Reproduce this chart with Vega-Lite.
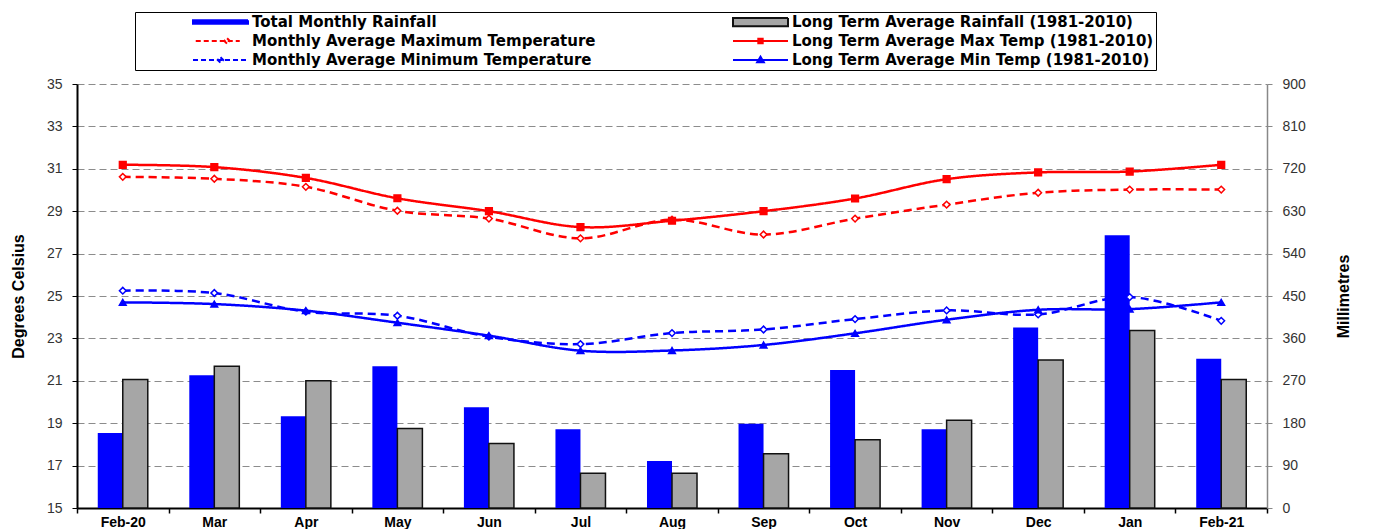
{
  "$schema": "https://vega.github.io/schema/vega-lite/v6.json",
  "width": 1190,
  "height": 424,
  "autosize": {"type": "none"},
  "padding": {"left": 77, "top": 84, "right": 112, "bottom": 21},
  "background": "white",
  "config": {"view": {"stroke": null}, "font": "Liberation Sans"},
  "data": {"values": [
    {"month": "Feb-20", "series": "rain", "value": 159},
    {"month": "Mar", "series": "rain", "value": 282},
    {"month": "Apr", "series": "rain", "value": 195},
    {"month": "May", "series": "rain", "value": 301},
    {"month": "Jun", "series": "rain", "value": 214},
    {"month": "Jul", "series": "rain", "value": 167},
    {"month": "Aug", "series": "rain", "value": 100},
    {"month": "Sep", "series": "rain", "value": 179},
    {"month": "Oct", "series": "rain", "value": 293},
    {"month": "Nov", "series": "rain", "value": 167},
    {"month": "Dec", "series": "rain", "value": 383},
    {"month": "Jan", "series": "rain", "value": 579},
    {"month": "Feb-21", "series": "rain", "value": 317},
    {"month": "Feb-20", "series": "rain_lta", "value": 273},
    {"month": "Mar", "series": "rain_lta", "value": 301},
    {"month": "Apr", "series": "rain_lta", "value": 270},
    {"month": "May", "series": "rain_lta", "value": 169},
    {"month": "Jun", "series": "rain_lta", "value": 137},
    {"month": "Jul", "series": "rain_lta", "value": 74},
    {"month": "Aug", "series": "rain_lta", "value": 74},
    {"month": "Sep", "series": "rain_lta", "value": 115},
    {"month": "Oct", "series": "rain_lta", "value": 145},
    {"month": "Nov", "series": "rain_lta", "value": 186},
    {"month": "Dec", "series": "rain_lta", "value": 314},
    {"month": "Jan", "series": "rain_lta", "value": 377},
    {"month": "Feb-21", "series": "rain_lta", "value": 273},
    {"month": "Feb-20", "series": "tmax", "value": 30.62},
    {"month": "Mar", "series": "tmax", "value": 30.53},
    {"month": "Apr", "series": "tmax", "value": 30.15},
    {"month": "May", "series": "tmax", "value": 29.02},
    {"month": "Jun", "series": "tmax", "value": 28.65},
    {"month": "Jul", "series": "tmax", "value": 27.72},
    {"month": "Aug", "series": "tmax", "value": 28.6},
    {"month": "Sep", "series": "tmax", "value": 27.9},
    {"month": "Oct", "series": "tmax", "value": 28.65},
    {"month": "Nov", "series": "tmax", "value": 29.31},
    {"month": "Dec", "series": "tmax", "value": 29.87},
    {"month": "Jan", "series": "tmax", "value": 30.02},
    {"month": "Feb-21", "series": "tmax", "value": 30.02},
    {"month": "Feb-20", "series": "tmax_lta", "value": 31.19},
    {"month": "Mar", "series": "tmax_lta", "value": 31.08},
    {"month": "Apr", "series": "tmax_lta", "value": 30.57},
    {"month": "May", "series": "tmax_lta", "value": 29.61},
    {"month": "Jun", "series": "tmax_lta", "value": 29.0},
    {"month": "Jul", "series": "tmax_lta", "value": 28.25},
    {"month": "Aug", "series": "tmax_lta", "value": 28.55},
    {"month": "Sep", "series": "tmax_lta", "value": 29.0},
    {"month": "Oct", "series": "tmax_lta", "value": 29.6},
    {"month": "Nov", "series": "tmax_lta", "value": 30.51},
    {"month": "Dec", "series": "tmax_lta", "value": 30.83},
    {"month": "Jan", "series": "tmax_lta", "value": 30.87},
    {"month": "Feb-21", "series": "tmax_lta", "value": 31.19},
    {"month": "Feb-20", "series": "tmin", "value": 25.25},
    {"month": "Mar", "series": "tmin", "value": 25.14},
    {"month": "Apr", "series": "tmin", "value": 24.26},
    {"month": "May", "series": "tmin", "value": 24.07},
    {"month": "Jun", "series": "tmin", "value": 23.08},
    {"month": "Jul", "series": "tmin", "value": 22.73},
    {"month": "Aug", "series": "tmin", "value": 23.25},
    {"month": "Sep", "series": "tmin", "value": 23.42},
    {"month": "Oct", "series": "tmin", "value": 23.91},
    {"month": "Nov", "series": "tmin", "value": 24.32},
    {"month": "Dec", "series": "tmin", "value": 24.13},
    {"month": "Jan", "series": "tmin", "value": 24.95},
    {"month": "Feb-21", "series": "tmin", "value": 23.83},
    {"month": "Feb-20", "series": "tmin_lta", "value": 24.7},
    {"month": "Mar", "series": "tmin_lta", "value": 24.62},
    {"month": "Apr", "series": "tmin_lta", "value": 24.31},
    {"month": "May", "series": "tmin_lta", "value": 23.74},
    {"month": "Jun", "series": "tmin_lta", "value": 23.13},
    {"month": "Jul", "series": "tmin_lta", "value": 22.42},
    {"month": "Aug", "series": "tmin_lta", "value": 22.43},
    {"month": "Sep", "series": "tmin_lta", "value": 22.69},
    {"month": "Oct", "series": "tmin_lta", "value": 23.24},
    {"month": "Nov", "series": "tmin_lta", "value": 23.88},
    {"month": "Dec", "series": "tmin_lta", "value": 24.35},
    {"month": "Jan", "series": "tmin_lta", "value": 24.38},
    {"month": "Feb-21", "series": "tmin_lta", "value": 24.7}
  ]},
  "layer": [
    {
      "transform": [{"filter": "datum.series == 'rain' || datum.series == 'rain_lta'"}],
      "mark": {"type": "bar", "strokeWidth": 1.5},
      "encoding": {
        "x": {
          "field": "month", "type": "nominal", "sort": null,
          "scale": {"domain": ["Feb-20","Mar","Apr","May","Jun","Jul","Aug","Sep","Oct","Nov","Dec","Jan","Feb-21"], "paddingInner": 0, "paddingOuter": 0},
          "axis": {"title": null, "labelAngle": 0, "labelFont": "Liberation Sans", "labelFontWeight": "bold", "labelFontSize": 14, "labelColor": "#000", "labelPadding": 2, "tickBand": "extent", "tickSize": 5, "tickColor": "#000", "tickWidth": 1.5, "domainColor": "#000", "domainWidth": 2, "grid": false}
        },
        "xOffset": {"field": "series", "type": "nominal", "scale": {"domain": ["rain", "rain_lta"], "paddingInner": 0, "paddingOuter": 0.83}},
        "y": {
          "field": "value", "type": "quantitative",
          "scale": {"domain": [0, 900], "nice": false},
          "axis": {"orient": "right", "values": [0,90,180,270,360,450,540,630,720,810,900], "title": "Millimetres", "titleAngle": 270, "titleFont": "Liberation Sans Narrow, Liberation Sans, sans-serif", "titleFontSize": 16, "titleFontWeight": "bold", "titleColor": "#000", "titlePadding": 46, "labelFont": "Liberation Sans", "labelFontSize": 14, "labelColor": "#333", "labelPadding": 10, "tickSize": 5, "tickColor": "#888", "domainColor": "#888", "domainWidth": 1.5, "grid": false}
        },
        "color": {
          "field": "series", "type": "nominal",
          "scale": {"domain": ["rain", "rain_lta"], "range": ["#0000ff", "#a6a6a6"]},
          "legend": null
        },
        "stroke": {"condition": {"test": "datum.series == 'rain_lta'", "value": "#111111"}, "value": "transparent"}
      }
    },
    {
      "transform": [{"filter": "datum.series != 'rain' && datum.series != 'rain_lta'"}],
      "encoding": {
        "x": {"field": "month", "type": "nominal", "sort": null},
        "y": {
          "field": "value", "type": "quantitative",
          "scale": {"domain": [15, 35], "nice": false, "zero": false},
          "axis": {"orient": "left", "values": [15,17,19,21,23,25,27,29,31,33,35], "title": "Degrees Celsius", "titleFont": "Liberation Sans Narrow, Liberation Sans, sans-serif", "titleFontSize": 16, "titleFontWeight": "bold", "titleColor": "#000", "titlePadding": 20, "labelFont": "Liberation Sans", "labelFontSize": 14, "labelColor": "#333", "labelPadding": 10, "tickSize": 5, "tickColor": "#000", "domainColor": "#000", "domainWidth": 2, "grid": true, "gridColor": "#8c8c8c", "gridDash": [7, 4], "gridWidth": 1}
        }
      },
      "layer": [
        {
          "mark": {"type": "line", "strokeWidth": 2.5, "interpolate": "catmull-rom"},
          "encoding": {
            "stroke": {"field": "series", "type": "nominal", "scale": {"domain": ["tmax", "tmax_lta", "tmin", "tmin_lta"], "range": ["#ff0000", "#ff0000", "#0000ff", "#0000ff"]}, "legend": null},
            "strokeDash": {"field": "series", "type": "nominal", "scale": {"domain": ["tmax", "tmax_lta", "tmin", "tmin_lta"], "range": [[8, 5], [1, 0], [8, 5], [1, 0]]}, "legend": null}
          }
        },
        {
          "mark": {"type": "point", "filled": true, "size": 45, "strokeWidth": 1.5, "opacity": 1},
          "encoding": {
            "shape": {"field": "series", "type": "nominal", "scale": {"domain": ["tmax", "tmax_lta", "tmin", "tmin_lta"], "range": ["diamond", "square", "diamond", "triangle-up"]}, "legend": null},
            "fill": {"field": "series", "type": "nominal", "scale": {"domain": ["tmax", "tmax_lta", "tmin", "tmin_lta"], "range": ["#ffffff", "#ff0000", "#ffffff", "#0000ff"]}, "legend": null},
            "stroke": {"field": "series", "type": "nominal", "legend": null}
          }
        }
      ]
    },
    {
      "transform": [{"filter": "false"}],
      "mark": {"type": "point", "filled": true, "opacity": 1},
      "encoding": {
        "shape": {
          "field": "series", "type": "nominal",
          "scale": {"domain": ["rain", "rain_lta", "tmax", "tmax_lta", "tmin", "tmin_lta"], "range": ["M0,-0.03H1V0.03H0Z", "M0,-0.075H1V0.075H0Z", "M0.05,0H0.85M0.62,-0.05L0.67,0L0.62,0.05L0.57,0Z", "M0,0H1M0.46,-0.04H0.54V0.04H0.46Z", "M0,0H1M0.5,-0.05L0.55,0L0.5,0.05L0.45,0Z", "M0,0H1M0.5,-0.06L0.56,0.04H0.44Z"]},
          "legend": {
            "title": null, "orient": "none", "legendX": 58, "legendY": -72, "direction": "horizontal",
            "columns": 2, "columnPadding": 81, "rowPadding": 3, "clipHeight": 16,
            "symbolSize": 12100, "symbolStrokeWidth": 2, "labelOffset": 3, "labelLimit": 700,
            "labelFont": "DejaVu Sans", "labelFontSize": 15, "labelFontWeight": "bold", "labelColor": "#000",
            "padding": 2, "strokeColor": "#000",
            "labelExpr": "datum.value == 'rain' ? 'Total Monthly Rainfall' : datum.value == 'rain_lta' ? 'Long Term Average Rainfall (1981-2010)' : datum.value == 'tmax' ? 'Monthly Average Maximum Temperature' : datum.value == 'tmax_lta' ? 'Long Term Average Max Temp (1981-2010)' : datum.value == 'tmin' ? 'Monthly Average Minimum Temperature' : 'Long Term Average Min Temp (1981-2010)'"
          }
        },
        "fill": {
          "field": "series", "type": "nominal",
          "scale": {"domain": ["rain", "rain_lta", "tmax", "tmax_lta", "tmin", "tmin_lta"], "range": ["#0000ff", "#a6a6a6", "#ffffff", "#ff0000", "#ffffff", "#0000ff"]}
        },
        "stroke": {
          "field": "series", "type": "nominal",
          "scale": {"domain": ["rain", "rain_lta", "tmax", "tmax_lta", "tmin", "tmin_lta"], "range": ["#0000ff", "#111111", "#ff0000", "#ff0000", "#0000ff", "#0000ff"]}
        },
        "strokeDash": {
          "field": "series", "type": "nominal",
          "scale": {"domain": ["rain", "rain_lta", "tmax", "tmax_lta", "tmin", "tmin_lta"], "range": [[1, 0], [1, 0], [5, 3], [1, 0], [5, 3], [1, 0]]}
        }
      }
    }
  ],
  "resolve": {"scale": {"y": "independent", "shape": "independent", "fill": "independent", "stroke": "independent", "strokeDash": "independent", "color": "independent"}}
}
